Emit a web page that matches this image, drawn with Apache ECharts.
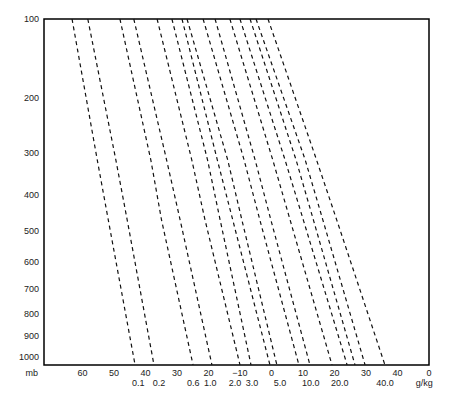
<!DOCTYPE html>
<html>
<head>
<meta charset="utf-8">
<script src="https://cdn.jsdelivr.net/npm/echarts@6/dist/echarts.min.js"></script>
<style>
html,body{margin:0;padding:0;background:#fff;}
#chart{width:450px;height:403px;}
</style>
</head>
<body>
<div id="chart"></div>
<script>
// Stüve-type diagram: x = temperature (°C), y = pressure on a p^0.286 scale
const KAPPA = 0.286;
const T_MIN = -72.2, T_MAX = 50;
const P_TOP = 100, P_BOTTOM = 1041;

// pressure levels (mb) at which the mixing-ratio lines were read
const pressureLevels = [100, 315, 467, 1040];

// temperatures (°C) of each dashed mixing-ratio line at those levels
const line1  = [-63.3, -55.3, -51.8, -43.3];
const line2  = [-58.3, -49.4, -45.8, -37.3];
const line3  = [-48.1, -38.3, -34.9, -24.9];
const line4  = [-43.7, -33.3, -29.0, -18.9];
const line5  = [-36.3, -25.3, -21.1, -10.0];
const line6  = [-31.6, -20.3, -16.3, -6.5];
const line7  = [-28.4, -17.2, -12.3, -0.5];
const line8  = [-26.8, -13.9, -9.4, 1.7];
const line9  = [-21.7, -8.7, -3.7, 8.7];
const line10 = [-17.9, -5.2, -0.2, 12.2];
const line11 = [-13.2, 0.4, 5.9, 19.2];
const line12 = [-10.0, 4.3, 10.1, 24.0];
const line13 = [-6.8, 7.8, 13.3, 26.5];
const line14 = [-4.9, 10.7, 16.3, 29.7];
const line15 = [-1.1, 14.3, 20.7, 36.0];
const mixingLines = [line1, line2, line3, line4, line5, line6, line7, line8,
                     line9, line10, line11, line12, line13, line14, line15];

// tick labels
const pressureTicks = [100, 200, 300, 400, 500, 600, 700, 800, 900, 1000];
const tempTicks = [-60, -50, -40, -30, -20, -10, 0, 10, 20, 30, 40, 50];
const tempTickLabels = ['60', '50', '40', '30', '20', '\u221210', '0', '10', '20', '30', '40', '0'];
const mixTickTemps = [-42.3, -35.7, -24.8, -19.4, -11.6, -6.2, 2.7, 12.5, 21.7, 36.0, 48.5];
const mixTickLabels = ['0.1', '0.2', '0.6', '1.0', '2.0', '3.0', '5.0', '10.0', '20.0', '40.0', 'g/kg'];
const pressureUnit = 'mb';

const pk = p => Math.pow(p, KAPPA);

const FONT = 'Liberation Sans, Arial, sans-serif';
const TXT = '#222';

const lineSeries = mixingLines.map((temps, i) => ({
  name: 'w' + (i + 1),
  type: 'line',
  data: temps.map((t, j) => [t, pk(pressureLevels[j])]),
  showSymbol: false,
  symbol: 'none',
  silent: true,
  lineStyle: { color: '#111', width: 1.2, type: [4, 3.5] },
  z: 3
}));

// label items: [x, y, kind, index]
const labelData = [];
pressureTicks.forEach((p, i) => labelData.push([T_MIN, pk(p), 0, i]));
tempTicks.forEach((t, i) => labelData.push([t, pk(P_BOTTOM), 1, i]));
mixTickTemps.forEach((t, i) => labelData.push([t, pk(P_BOTTOM), 2, i]));
labelData.push([T_MIN, pk(P_BOTTOM), 3, 0]);

const labelSeries = {
  type: 'custom',
  silent: true,
  clip: false,
  data: labelData,
  renderItem: function (params, api) {
    const kind = api.value(2), idx = api.value(3);
    const pt = api.coord([api.value(0), api.value(1)]);
    let text, x = pt[0], y = pt[1], align = 'center';
    if (kind === 0) { text = String(pressureTicks[idx]); x -= 5; align = 'right'; }
    else if (kind === 1) { text = tempTickLabels[idx]; y += 8; }
    else if (kind === 2) { text = mixTickLabels[idx]; y += 18; }
    else { text = pressureUnit; x -= 6; y += 8; align = 'right'; }
    return {
      type: 'text', x: x, y: y,
      style: { text: text, fill: TXT, font: '9px ' + FONT, align: align, verticalAlign: 'middle' }
    };
  },
  z: 5
};

const chart = echarts.init(document.getElementById('chart'), null, { renderer: 'svg' });
chart.setOption({
  animation: false,
  backgroundColor: '#fff',
  grid: { left: 44, right: 21, top: 19, bottom: 38, show: true, borderColor: '#000', borderWidth: 1.5, backgroundColor: 'transparent' },
  xAxis: {
    type: 'value', min: T_MIN, max: T_MAX,
    axisLine: { show: false }, axisTick: { show: false }, axisLabel: { show: false }, splitLine: { show: false }
  },
  yAxis: {
    type: 'value', inverse: true, min: pk(P_TOP), max: pk(P_BOTTOM),
    axisLine: { show: false }, axisTick: { show: false }, axisLabel: { show: false }, splitLine: { show: false }
  },
  series: lineSeries.concat([labelSeries])
});
</script>
</body>
</html>
